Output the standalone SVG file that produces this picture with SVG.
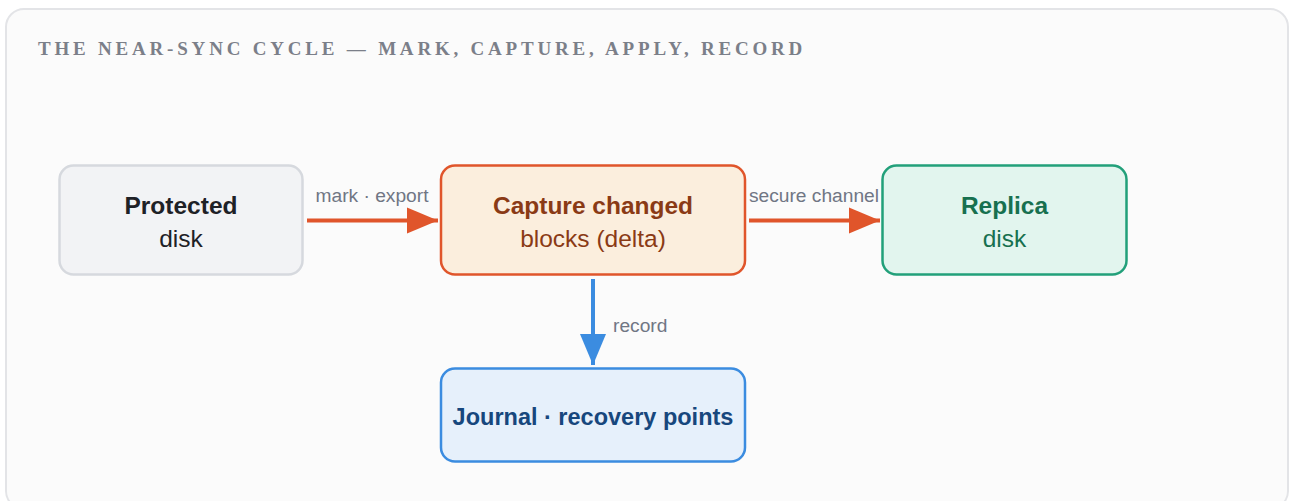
<svg xmlns="http://www.w3.org/2000/svg" width="1289" height="501" viewBox="0 0 1289 501">
<style>
.card{fill:#fbfbfb;stroke:#e3e4e7;stroke-width:2}
.title{font-family:"Liberation Serif",serif;font-weight:bold;font-size:19px;letter-spacing:3.8px;fill:#7b7f89}
.node rect{stroke-width:2.5}
.t1{font-family:"Liberation Sans",Arial,sans-serif;font-weight:bold;font-size:24.5px;text-anchor:middle}
.t2{font-family:"Liberation Sans",Arial,sans-serif;font-size:24.5px;text-anchor:middle}
.lbl{font-family:"Liberation Sans",Arial,sans-serif;font-size:19.2px;fill:#707684}
.edge{fill:none;stroke-width:4}
</style>
<defs>
<marker id="ao" markerUnits="userSpaceOnUse" markerWidth="32" markerHeight="28" refX="31" refY="14" orient="auto"><path d="M0,1 L31,14 L0,27 Z" fill="#e0552b"/></marker>
<marker id="ab" markerUnits="userSpaceOnUse" markerWidth="32" markerHeight="28" refX="31" refY="14" orient="auto"><path d="M0,1 L31,14 L0,27 Z" fill="#3b8ce0"/></marker>
</defs>
<rect class="card" x="6" y="9" width="1282" height="500" rx="18"/>
<text class="title" x="38" y="55">THE NEAR-SYNC CYCLE — MARK, CAPTURE, APPLY, RECORD</text>
<g id="connectors">
<line class="edge" x1="307" y1="220.5" x2="438" y2="220.5" stroke="#e0552b" marker-end="url(#ao)"/>
<text class="lbl" x="372" y="202" text-anchor="middle">mark · export</text>
<line class="edge" x1="749" y1="220.5" x2="880" y2="220.5" stroke="#e0552b" marker-end="url(#ao)"/>
<text class="lbl" x="814" y="202" text-anchor="middle">secure channel</text>
<line class="edge" x1="593" y1="279" x2="593" y2="365" stroke="#3b8ce0" marker-end="url(#ab)"/>
<text class="lbl" x="613" y="332">record</text>
</g>
<g id="protected" class="node">
<rect x="59.5" y="165.5" width="243" height="109" rx="14" fill="#f2f3f5" stroke="#d6d9de"/>
<text class="t1" x="181" y="214" fill="#1e2126">Protected</text>
<text class="t2" x="181" y="247" fill="#1e2126">disk</text>
</g>
<g id="capture" class="node">
<rect x="441" y="165.5" width="304" height="109" rx="14" fill="#fbeedd" stroke="#e0552b"/>
<text class="t1" x="593" y="214" fill="#8a3a15">Capture changed</text>
<text class="t2" x="593" y="247" fill="#8a3a15">blocks (delta)</text>
</g>
<g id="replica" class="node">
<rect x="882.5" y="165.5" width="244" height="109" rx="14" fill="#e2f5ee" stroke="#22a07a"/>
<text class="t1" x="1004.5" y="214" fill="#17704f">Replica</text>
<text class="t2" x="1004.5" y="247" fill="#17704f">disk</text>
</g>
<g id="journal" class="node">
<rect x="441" y="368.5" width="304" height="93" rx="14" fill="#e6f0fb" stroke="#3b8ce0"/>
<text class="t1" x="593" y="425" fill="#17477d" style="font-size:23.5px">Journal · recovery points</text>
</g>
</svg>
